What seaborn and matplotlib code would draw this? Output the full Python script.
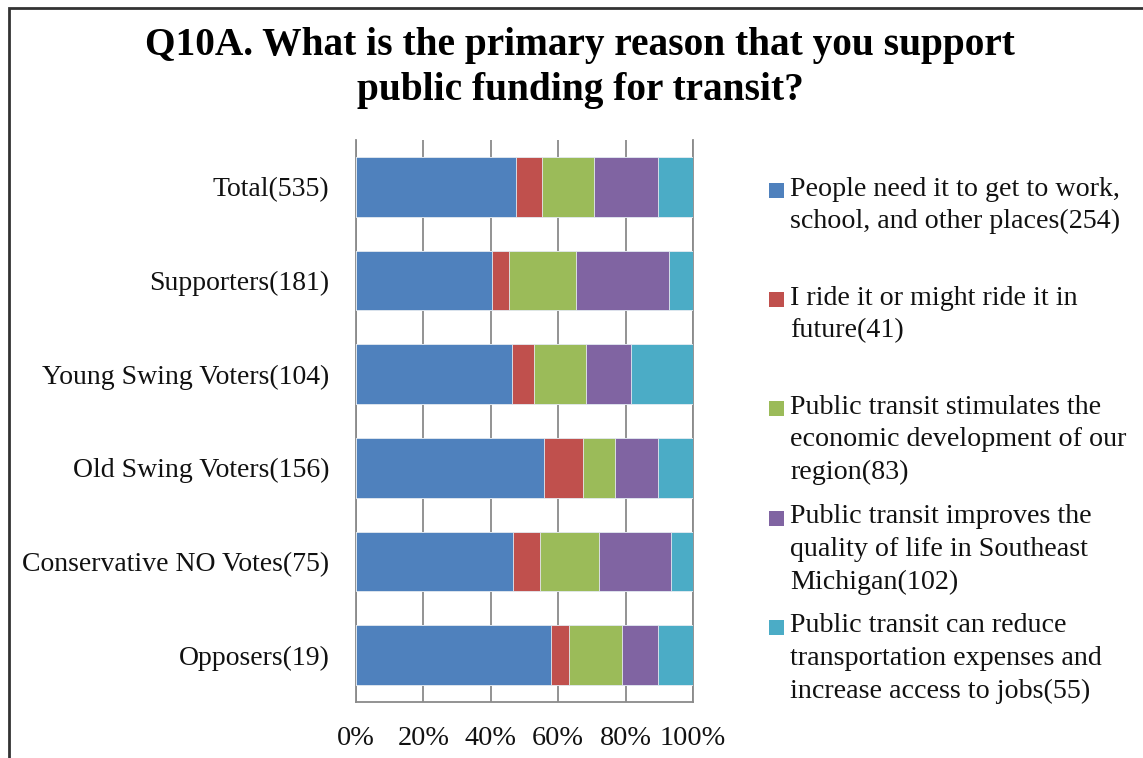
import numpy as np
import pandas as pd
import seaborn as sns
import matplotlib
matplotlib.use("Agg")
import matplotlib.pyplot as plt
from matplotlib.patches import Rectangle

# Respondent groups (top to bottom) and counts for each primary reason
groups = ["Total(535)", "Supporters(181)", "Young Swing Voters(104)",
          "Old Swing Voters(156)", "Conservative NO Votes(75)", "Opposers(19)"]
need_it = [254, 73, 48, 87, 35, 11]
ride_it = [41, 9, 7, 18, 6, 1]
economic = [83, 36, 16, 15, 13, 3]
quality = [102, 50, 14, 20, 16, 2]
expenses = [55, 13, 19, 16, 5, 2]

reasons = [
    "People need it to get to work,\nschool, and other places(254)",
    "I ride it or might ride it in\nfuture(41)",
    "Public transit stimulates the\neconomic development of our\nregion(83)",
    "Public transit improves the\nquality of life in Southeast\nMichigan(102)",
    "Public transit can reduce\ntransportation expenses and\nincrease access to jobs(55)",
]
colors = ["#4F81BD", "#C0504D", "#9BBB59", "#8064A2", "#4BACC6"]
x_ticks = [0, 20, 40, 60, 80, 100]
x_tick_labels = ["0%", "20%", "40%", "60%", "80%", "100%"]

counts = pd.DataFrame([need_it, ride_it, economic, quality, expenses],
                      columns=groups).T
shares = counts.div(counts.sum(axis=1), axis=0) * 100
cumulative = shares.cumsum(axis=1)

sns.set_theme(style="white")
plt.rcParams["font.family"] = ["Liberation Serif", "DejaVu Serif"]

W, H = 1143, 758
fig = plt.figure(figsize=(W / 100, H / 100), dpi=100)
ax = fig.add_axes([356 / W, 1 - 702 / H, 337 / W, 562 / H])

# Stacked 100% bars: draw running totals from the widest down
for i in reversed(range(len(colors))):
    df = pd.DataFrame({"group": groups, "value": cumulative.iloc[:, i].values})
    sns.barplot(data=df, x="value", y="group", orient="h", color=colors[i],
                saturation=1, width=0.64, edgecolor="#e6ecf2", linewidth=0.6,
                ax=ax, zorder=3)

ax.set_xlim(0, 100)
ax.set_ylim(len(groups) - 0.5, -0.5)
ax.set_xticks(x_ticks)
ax.set_xticklabels(x_tick_labels)
ax.set_xlabel("")
ax.set_ylabel("")
ax.tick_params(axis="x", length=0, pad=17, labelsize=20.3, colors="#111111")
ax.tick_params(axis="y", length=0, pad=19, labelsize=20, colors="#111111")
ax.set_axisbelow(True)
ax.xaxis.grid(True, color="#8a8a8a", linewidth=1.3)
ax.yaxis.grid(False)
ax.spines["top"].set_visible(False)
for side in ["left", "bottom", "right"]:
    ax.spines[side].set_color("#8a8a8a")
    ax.spines[side].set_linewidth(1.3)

# Title
fig.text(580 / W, 1 - 27 / H,
         "Q10A. What is the primary reason that you support\npublic funding for transit?",
         ha="center", va="top", fontsize=28.4, fontweight="bold",
         linespacing=1.28, color="#000000")

# Legend: square keys aligned with the first line of each label
key = 15
for i, (label, c) in enumerate(zip(reasons, colors)):
    cy = 190.5 + 109.2 * i
    fig.add_artist(Rectangle((769 / W, 1 - (cy + key / 2) / H), key / W, key / H,
                             transform=fig.transFigure, facecolor=c,
                             edgecolor="none"))
    fig.text(790 / W, 1 - (cy - 14) / H, label, ha="left", va="top",
             fontsize=20.2, linespacing=1.4, color="#111111")

# Chart frame
fig.add_artist(Rectangle((9 / W, -0.05), 1.2, 1 - 8 / H + 0.05,
                         transform=fig.transFigure, fill=False,
                         edgecolor="#333333", linewidth=2))

fig.savefig("out.png", dpi=100)
